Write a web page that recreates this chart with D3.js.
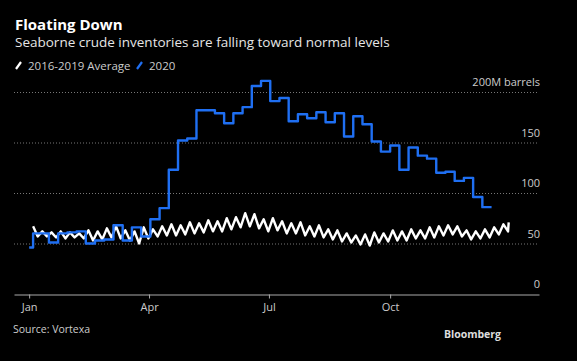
<!DOCTYPE html>
<html>
<head>
<meta charset="utf-8">
<script src="https://cdn.jsdelivr.net/npm/d3@7"></script>
<style>
	body { margin:0; background:#000; }
	svg { display:block; font-family:"Open Sans", sans-serif; }
</style>
</head>
<body>
<svg id="chart" width="577" height="361"></svg>
<script>
//2020 floating storage, weekly steps (million barrels)
var floatDates = ["2020-01-01","2020-01-04","2020-01-09","2020-01-16","2020-01-23","2020-01-30","2020-02-06","2020-02-13","2020-02-20","2020-02-27",
	"2020-03-05","2020-03-12","2020-03-19","2020-03-26","2020-04-02","2020-04-09","2020-04-16","2020-04-23","2020-04-30","2020-05-07",
	"2020-05-14","2020-05-21","2020-05-28","2020-06-04","2020-06-11","2020-06-18","2020-06-25","2020-07-02","2020-07-09","2020-07-16",
	"2020-07-23","2020-07-30","2020-08-06","2020-08-13","2020-08-20","2020-08-27","2020-09-03","2020-09-10","2020-09-17","2020-09-24",
	"2020-10-01","2020-10-08","2020-10-15","2020-10-22","2020-10-29","2020-11-05","2020-11-12","2020-11-19","2020-11-26","2020-12-03",
	"2020-12-10","2020-12-17"];
var floatValues = [46,60,60,51,60,61,62,50,53,54,
	68,53,66,57,74,85,123,152,154,182,
	182,179,169,179,185,206,211,191,194,171,
	178,174,180,170,179,156,176,168,151,141,
	147,123,145,137,134,120,121,112,115,96,
	86,86];

//2016-2019 average, weekly highs and lows (million barrels)
var avgStart = "2020-01-04";
var avgPeaks = [67,62,61,62,61,60,63,62,65,67,63,62,66,64,67,69,68,71,70,73,
	72,75,76,80,79,74,75,72,70,71,67,68,64,63,60,58,59,61,60,63,
	62,64,63,66,67,68,67,63,62,64,66,69];
var avgTroughs = [57,57,56,55,56,55,53,54,56,55,53,50,55,57,58,58,59,60,61,62,
	62,64,66,67,65,62,63,60,60,58,57,56,54,52,51,49,48,51,52,53,
	53,55,55,56,58,59,57,54,55,56,59,62];
var avgLast = ["2020-12-30",71];

//axis
var yTicks = [0,50,100,150,200];
var yTickLabels = ["0","50","100","150","200M barrels"];
var xTicks = ["2020-01-01","2020-04-01","2020-07-01","2020-10-01"];
var xTickLabels = ["Jan","Apr","Jul","Oct"];

var parse = d3.timeParse("%Y-%m-%d");
var svg = d3.select("#chart");

var x = d3.scaleTime()
	.domain([new Date(2019,11,20,12), new Date(2021,0,22)])
	.range([14,539]);
var y = d3.scaleLinear().domain([0,200]).range([294,92]);

//build series
var floatData = floatDates.map(function(d,i) { return {date:parse(d), value:floatValues[i]}; });
var avgData = [];
var s = parse(avgStart);
for (var i = 0 ; i < avgPeaks.length ; i++)
{
	var wk = d3.timeDay.offset(s, 7*i);
	avgData.push({date:wk, value:avgPeaks[i]});
	avgData.push({date:d3.timeHour.offset(wk,84), value:avgTroughs[i]});
}
avgData.push({date:parse(avgLast[0]), value:avgLast[1]});

//titles
svg.append("text").attr("x",15).attr("y",30)
	.attr("fill","#fff").attr("font-size","15px").attr("font-weight","bold")
	.text("Floating Down");
svg.append("text").attr("x",15).attr("y",47)
	.attr("fill","#e6e6e6").attr("font-size","13.5px")
	.text("Seaborne crude inventories are falling toward normal levels");

//legend
var legend = [{label:"2016-2019 Average", color:"#fff", x:15},{label:"2020", color:"#1f6ff2", x:136}];
var lg = svg.selectAll("g.legend").data(legend).enter().append("g")
	.attr("class","legend")
	.attr("transform",function(d) { return "translate("+d.x+",0)"; });
lg.append("line").attr("x1",1).attr("y1",69).attr("x2",6).attr("y2",62)
	.attr("stroke",function(d) { return d.color; }).attr("stroke-width",2.2);
lg.append("text").attr("x",13).attr("y",69.5)
	.attr("fill","#ccc").attr("font-size","11.5px")
	.text(function(d) { return d.label; });

//grid + y labels
svg.selectAll("line.grid").data(yTicks.slice(1)).enter().append("line")
	.attr("class","grid")
	.attr("x1",14).attr("x2",539)
	.attr("y1",function(d) { return y(d)+0.5; }).attr("y2",function(d) { return y(d)+0.5; })
	.attr("stroke","#777").attr("stroke-dasharray","1,2");
svg.selectAll("text.ylab").data(yTicks).enter().append("text")
	.attr("class","ylab")
	.attr("x",540).attr("y",function(d) { return y(d)-6; })
	.attr("text-anchor","end").attr("fill","#ccc").attr("font-size","11px")
	.text(function(d,i) { return yTickLabels[i]; });

//x axis
var xAxis = d3.axisBottom(x)
	.tickValues(xTicks.map(parse))
	.tickFormat(function(d,i) { return xTickLabels[i]; })
	.tickSize(4).tickSizeOuter(0);
var gx = svg.append("g").attr("transform","translate(0,294.5)").call(xAxis);
gx.select(".domain").attr("stroke","#aaa");
gx.selectAll(".tick line").attr("stroke","#aaa");
gx.selectAll(".tick text").attr("fill","#ccc").attr("font-size","11px")
	.attr("font-family","Open Sans, sans-serif").attr("dy","0.9em");

//lines
var avgLine = d3.line().x(function(d) { return x(d.date); }).y(function(d) { return y(d.value); });
var floatLine = d3.line().curve(d3.curveStepAfter)
	.x(function(d) { return x(d.date); }).y(function(d) { return y(d.value); });

svg.append("path").datum(avgData)
	.attr("d",avgLine).attr("fill","none")
	.attr("stroke","#fff").attr("stroke-width",2.4).attr("stroke-linejoin","round");
svg.append("path").datum(floatData)
	.attr("d",floatLine).attr("fill","none")
	.attr("stroke","#1f6ff2").attr("stroke-width",2.4).attr("stroke-linejoin","round");

//footer
svg.append("text").attr("x",13).attr("y",333)
	.attr("fill","#ccc").attr("font-size","10.5px")
	.text("Source: Vortexa");
svg.append("text").attr("x",501).attr("y",338)
	.attr("text-anchor","end").attr("fill","#ddd").attr("font-size","10.5px").attr("font-weight","bold")
	.text("Bloomberg");
</script>
</body>
</html>
